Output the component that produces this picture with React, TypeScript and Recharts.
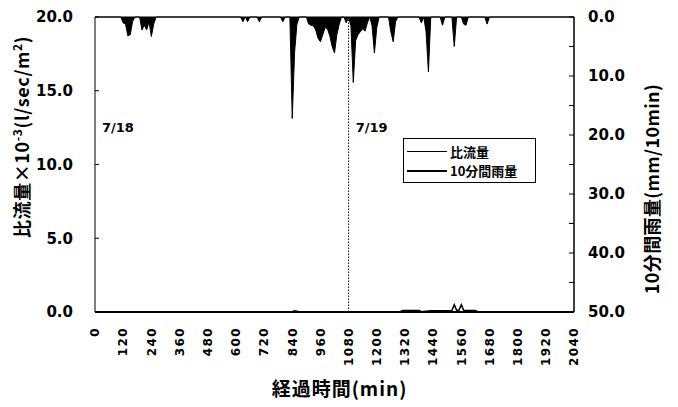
import { ComposedChart, Area, Line, XAxis, YAxis, ReferenceLine, ReferenceDot, Label } from 'recharts';

// 経過時間 (min) axis ticks
const xTicks = [0, 120, 240, 360, 480, 600, 720, 840, 960, 1080, 1200, 1320, 1440, 1560, 1680, 1800, 1920, 2040];
const flowTicks = [0, 5, 10, 15, 20];
const rainTicks = [0, 5, 10, 15, 20, 25, 30, 35, 40, 45, 50];

// 10分間雨量 (mm/10min)
const rainTime = [0, 110, 120, 130, 140, 150, 160, 170, 190, 200, 210, 220, 230, 240, 250, 260,
  620, 630, 640, 650, 660, 690, 700, 710, 790, 800, 810, 830, 840, 850, 860, 870,
  900, 910, 920, 930, 940, 950, 960, 970, 980, 990, 1000, 1010, 1020, 1030, 1040, 1050,
  1060, 1070, 1080, 1090, 1100, 1110, 1120, 1130, 1140, 1150, 1160, 1170, 1180, 1190, 1200, 1210,
  1250, 1260, 1270, 1280, 1290, 1380, 1390, 1400, 1410, 1420, 1430, 1470, 1480, 1490,
  1520, 1530, 1540, 1560, 1570, 1580, 1590, 1660, 1670, 1680, 2040];
const rainMm = [0, 0, 1.0, 1.2, 3.2, 3.0, 0.8, 0, 0, 2.2, 1.4, 2.2, 0.8, 3.3, 1.2, 0,
  0, 0.8, 0, 0.8, 0, 0, 0.8, 0, 0, 0.8, 0, 0, 17.2, 6.0, 1.2, 0,
  0, 1.2, 1.4, 1.5, 2.2, 3.6, 4.2, 3.0, 1.8, 2.0, 3.2, 5.0, 6.1, 3.0, 1.2, 0,
  0, 1.0, 0, 1.5, 11.1, 4.0, 3.0, 2.5, 2.0, 2.4, 1.0, 0, 1.5, 6.1, 1.8, 0,
  0, 2.5, 4.2, 0.8, 0, 0, 1.0, 0, 2.5, 9.3, 0, 0, 1.4, 0,
  0, 5.0, 0, 0, 1.2, 1.4, 0, 0, 1.2, 0, 0];

// 比流量 ×10^-3 (l/sec/m2)
const flowTime = [0, 840, 850, 870, 1300, 1310, 1380, 1390, 1430, 1520, 1530, 1540, 1550, 1560, 1570, 1620, 1630, 2040];
const flowVal = [0.02, 0.02, 0.08, 0.02, 0.02, 0.1, 0.1, 0.02, 0.08, 0.1, 0.5, 0.12, 0.12, 0.5, 0.12, 0.1, 0.02, 0.02];

const rainData = rainTime.map((t, i) => ({ t, rain: rainMm[i] }));
const flowData = flowTime.map((t, i) => ({ t, q: flowVal[i] }));

const NUM_FONT = 'DejaVu Sans, sans-serif';
const JP_FONT = '"Noto Sans CJK JP", sans-serif';

function XTick({ x, y, payload }: any) {
  return (
    <text x={x} y={y} transform={`rotate(-90, ${x}, ${y})`} textAnchor="end" dy="0.36em"
      style={{ fontFamily: NUM_FONT, fontWeight: 700, fontSize: 12, letterSpacing: 1.4, fill: '#000' }}>
      {payload.value}
    </text>
  );
}

function LegendBox() {
  return (
    <div style={{ position: 'absolute', left: 403, top: 138, border: '1px solid #000', background: '#fff', width: 133, height: 45,
      boxSizing: 'border-box', padding: '3px 0 0 3px',
      fontFamily: JP_FONT, fontWeight: 700, fontSize: 13, lineHeight: '19px', color: '#000' }}>
      <div style={{ display: 'flex', alignItems: 'center' }}>
        <span style={{ display: 'inline-block', width: 40, borderTop: '1.5px solid #000', marginRight: 3 }} />比流量
      </div>
      <div style={{ display: 'flex', alignItems: 'center' }}>
        <span style={{ display: 'inline-block', width: 40, borderTop: '2.5px solid #000', marginRight: 3 }} />10分間雨量
      </div>
    </div>
  );
}

export default function App() {
  return (
    <div style={{ position: 'absolute', left: 0, top: 0, width: 678, height: 407, background: '#fff' }}>
      <ComposedChart width={678} height={407} margin={{ top: 17, right: 0, bottom: 0, left: 0 }}>
        <XAxis dataKey="t" type="number" domain={[0, 2040]} ticks={xTicks} interval={0} height={95}
          tick={<XTick />} tickLine={false} tickSize={0} tickMargin={15}
          axisLine={{ stroke: '#000', strokeWidth: 2 }} allowDataOverflow>
          <Label content={({ viewBox }: any) => (
            <text x={viewBox.x + viewBox.width / 2 + 5} y={viewBox.y + 84} textAnchor="middle"
              style={{ fontFamily: JP_FONT, fontWeight: 700, fontSize: 19, letterSpacing: 1, fill: '#000' }}>経過時間(min)</text>
          )} />
        </XAxis>
        <YAxis yAxisId="left" orientation="left" width={95} domain={[0, 20]} ticks={flowTicks} interval={0}
          tickFormatter={(v: number) => v.toFixed(1)} tickSize={-4} tickMargin={26}
          tick={{ fontFamily: NUM_FONT, fontWeight: 700, fontSize: 15, fill: '#000' }}
          axisLine={{ stroke: '#000', strokeWidth: 1 }} tickLine={{ stroke: '#000' }}>
          <Label content={({ viewBox }: any) => {
            const cx = viewBox.x + 23;
            const cy = viewBox.y + 120;
            return (
              <text x={cx} y={cy} transform={`rotate(-90, ${cx}, ${cy})`} textAnchor="middle" dy="0.36em"
                style={{ fontFamily: JP_FONT, fontWeight: 700, fontSize: 18, letterSpacing: 0.6, fill: '#000' }}>
                比流量×10<tspan dy="-7" fontSize={12}>-3</tspan><tspan dy="7">(l/sec/m</tspan><tspan dy="-7" fontSize={12}>2</tspan><tspan dy="7">)</tspan>
              </text>
            );
          }} />
        </YAxis>
        <YAxis yAxisId="right" orientation="right" width={104} domain={[0, 50]} reversed ticks={rainTicks} interval={0}
          tickFormatter={(v: number) => (v % 10 === 0 ? v.toFixed(1) : '')} tickSize={-5} tickMargin={19}
          tick={{ fontFamily: NUM_FONT, fontWeight: 700, fontSize: 15, fill: '#000' }}
          axisLine={{ stroke: '#000', strokeWidth: 1.5 }} tickLine={{ stroke: '#000' }}>
          <Label content={({ viewBox }: any) => {
            const cx = viewBox.x + 79;
            const cy = viewBox.y + 172;
            return (
              <text x={cx} y={cy} transform={`rotate(-90, ${cx}, ${cy})`} textAnchor="middle" dy="0.36em"
                style={{ fontFamily: JP_FONT, fontWeight: 700, fontSize: 18, letterSpacing: 0.4, fill: '#000' }}>10分間雨量(mm/10min)</text>
            );
          }} />
        </YAxis>
        <ReferenceLine yAxisId="left" y={20} stroke="#000" strokeWidth={1} />
        <ReferenceLine yAxisId="left" x={1080} stroke="#000" strokeWidth={1} strokeDasharray="1.5 1.5" />
        <Area yAxisId="right" data={rainData} dataKey="rain" type="linear" stroke="#000" strokeWidth={1}
          fill="#000" fillOpacity={1} isAnimationActive={false} dot={false} activeDot={false} />
        <Line yAxisId="left" data={flowData} dataKey="q" type="linear" stroke="#000" strokeWidth={1.5}
          dot={false} activeDot={false} isAnimationActive={false} />
        <ReferenceDot yAxisId="left" x={30} y={12.5} r={0} stroke="none"
          label={{ value: '7/18', position: 'right', offset: 0, style: { fontFamily: NUM_FONT, fontWeight: 700, fontSize: 13, fill: '#000' } }} />
        <ReferenceDot yAxisId="left" x={1110} y={12.5} r={0} stroke="none"
          label={{ value: '7/19', position: 'right', offset: 0, style: { fontFamily: NUM_FONT, fontWeight: 700, fontSize: 13, fill: '#000' } }} />
      </ComposedChart>
      <LegendBox />
    </div>
  );
}
